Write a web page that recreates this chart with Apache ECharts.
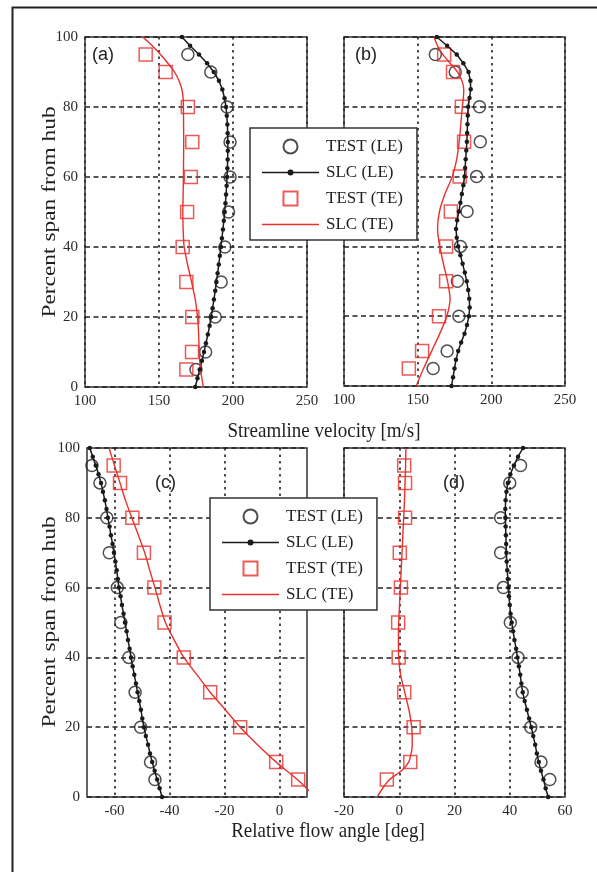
<!DOCTYPE html>
<html><head><meta charset="utf-8">
<script src="https://cdn.jsdelivr.net/npm/echarts@6/dist/echarts.min.js"></script>
<style>html,body{margin:0;padding:0;background:#fff}#c{width:597px;height:872px}</style>
</head><body><div id="c"></div><script>
// ---- data ----
const spanTest = [95, 90, 80, 70, 60, 50, 40, 30, 20, 10, 5];
const spanSlcLE = [100,97.5,95,92.5,90,87.5,85,82.5,80,77.5,75,72.5,70,67.5,65,62.5,60,57.5,55,52.5,50,47.5,45,42.5,40,37.5,35,32.5,30,27.5,25,22.5,20,17.5,15,12.5,10,7.5,5,2.5,0];

// (a) streamline velocity
const aTestLE = [169.5, 185, 196, 198, 198, 197, 194.5, 192, 188, 181.5, 175];
const aTestTE = [141, 154.5, 169.5, 172.5, 171.5, 169, 166, 168.5, 172.5, 172.3, 168.5];
const aSlcLE = [165.5,171,177,182.5,187,190.5,192.8,194.3,195.3,195.8,196.2,196.4,196.5,196.5,196.4,196.2,196,195.7,195.3,194.9,194.4,193.8,193.2,192.5,191.8,191.1,190.4,189.6,188.8,188,187.1,186.2,185.3,184.2,183,181.7,180.4,179,177.5,176,174.5];
const aSpanSlcTE = [100,97.5,95,92.5,90,87.5,85,82.5,80,75,70,65,60,55,50,45,40,35,30,25,20,15,10,5,0];
const aSlcTE = [139,145.5,151,156,160.5,163.5,165.5,166.3,166.5,166.6,166.7,166.6,166.5,166.3,166.1,166.3,167,169.3,172,174.5,176,176.8,177.2,178,180];

// (b) streamline velocity
const bTestLE = [162, 175.5, 192, 192.5, 190, 183.5, 179, 177, 178, 170, 160.5];
const bTestTE = [168, 174, 180, 181.5, 178.5, 172.5, 169.3, 169.3, 164.5, 153, 144];
const bSlcLE = [163,170,176.5,181,184.5,185.8,186,185.2,184.3,184,183.8,183.6,183.4,183,182.6,182.2,181.8,181,180,179,178,176.8,176,176.5,177.5,179,180.5,182,183.3,184.3,185,185.3,184.8,183.5,181.8,179.5,177.5,176,175,174,173];
const bSpanSlcTE = [100,97.5,95,92.5,90,87.5,85,82.5,80,75,70,65,60,55,50,45,40,35,30,25,20,15,10,5,0];
const bSlcTE = [161,163.5,167,172,177,180,181.3,181,180.3,179.3,178.2,176.5,173.5,168.5,164.8,163.5,165,167.5,170.3,172,169.8,165,159.5,154,149];

// (c) relative flow angle
const cTestLE = [-68.2, -65.3, -62.8, -61.9, -59, -57.7, -54.8, -52.5, -50.5, -46.9, -45.3];
const cTestTE = [-60.3, -58, -53.5, -49.3, -45.5, -41.8, -34.8, -25.2, -14.3, -1.2, 6.8];
const cSlcLE = [-69,-67.9,-66.8,-65.8,-64.9,-64.2,-63.5,-62.9,-62.4,-61.8,-61.3,-60.7,-60.2,-59.7,-59.2,-58.8,-58.4,-57.8,-57.3,-56.7,-56.2,-55.6,-55.1,-54.5,-54,-53.4,-52.8,-52.2,-51.6,-51,-50.4,-49.9,-49.3,-48.6,-47.8,-47.1,-46.3,-45.4,-44.5,-43.6,-42.7];
const cSpanSlcTE = [100,95,90,85,80,75,70,65,60,55,50,45,40,35,30,25,20,15,10,5,0];
const cSlcTE = [-62,-60,-58,-56,-53.7,-51.3,-49,-47.2,-45.3,-43.5,-41.5,-38.3,-34.8,-30,-25.2,-19.7,-14.3,-8,-1.2,6.5,13];

// (d) relative flow angle
const dTestLE = [43.9, 40, 36.7, 36.7, 37.7, 40.2, 43, 44.5, 47.6, 51.3, 54.5];
const dTestTE = [1.8, 2.1, 2.1, 0.2, 0.6, -0.4, -0.2, 1.8, 5.2, 4, -4.5];
const dSlcLE = [44.8,43,41.5,40.2,39.3,38.8,38.5,38.4,38.4,38.5,38.6,38.7,38.8,38.9,39.1,39.3,39.5,39.7,40,40.3,40.7,41.2,41.7,42.3,42.8,43.3,43.8,44.2,44.7,45.4,46.2,47,47.8,48.5,49.2,49.8,50.5,51.3,52.2,53,53.9];
const dSpanSlcTE = [100,95,90,85,80,75,70,65,60,55,50,45,40,35,30,25,20,15,12.5,10,7.5,5,2.5,0];
const dSlcTE = [2.4,2.3,2.1,1.9,1.6,1.3,1,0.7,0.4,0.1,-0.2,-0.3,-0.2,0.5,2,3.5,4.5,4.7,4.3,3.4,0.8,-3.5,-6,-8];

const cTicks = [-60, -40, -20, 0];
const legendNames = ['TEST (LE)', 'SLC (LE)', 'TEST (TE)', 'SLC (TE)'];
const panelLabels = ['(a)', '(b)', '(c)', '(d)'];
const xTitles = ['Streamline velocity [m/s]', 'Relative flow angle [deg]'];
const yTitle = 'Percent span from hub';

// ---- build ----
const RED = '#e8302c', BLK = '#1a1a1a';
const SERIF = '"Liberation Serif", "Times New Roman", serif';
const pair = (xs, ys) => xs.map((v, i) => [v, ys[i]]);

const grids = [
  {left: 85, top: 37, width: 222, height: 350},
  {left: 344, top: 37, width: 221, height: 349},
  {left: 87, top: 448, width: 220, height: 349},
  {left: 344, top: 448, width: 221, height: 349}
].map(g => Object.assign(g, {show: true, borderColor: '#333', borderWidth: 1.5, backgroundColor: 'transparent', containLabel: false}));

const vDash = {show: true, lineStyle: {color: '#222', width: 1.6, type: [2.5, 4]}};
const hDash = {show: true, lineStyle: {color: '#222', width: 1.6, type: [5, 3.5]}};
const lbl = {color: '#2a2a2a', fontFamily: SERIF, fontSize: 15, margin: 7};

function xAx(i, min, max, interval, custom) {
  const ax = {type: 'value', gridIndex: i, min, max, axisLine: {show: false}, axisTick: {show: false},
    splitLine: vDash, axisLabel: Object.assign({}, lbl)};
  if (custom) {
    ax.axisLabel.customValues = custom;
    ax.axisTick.customValues = custom;
  } else ax.interval = interval;
  return ax;
}
function yAx(i, showLbl) {
  return {type: 'value', gridIndex: i, min: 0, max: 100, interval: 20, axisLine: {show: false}, axisTick: {show: false},
    splitLine: hDash, axisLabel: Object.assign({show: showLbl}, lbl)};
}

const xAxis = [xAx(0, 100, 250, 50), xAx(1, 100, 250, 50), xAx(2, -70, 10, null, cTicks), xAx(3, -20, 60, 20)];
const yAxis = [yAx(0, true), yAx(1, false), yAx(2, true), yAx(3, false)];

const panels = [
  {le: aTestLE, te: aTestTE, sle: aSlcLE, stes: aSpanSlcTE, ste: aSlcTE},
  {le: bTestLE, te: bTestTE, sle: bSlcLE, stes: bSpanSlcTE, ste: bSlcTE},
  {le: cTestLE, te: cTestTE, sle: cSlcLE, stes: cSpanSlcTE, ste: cSlcTE},
  {le: dTestLE, te: dTestTE, sle: dSlcLE, stes: dSpanSlcTE, ste: dSlcTE}
];
const series = [];
panels.forEach((p, i) => {
  series.push({name: legendNames[1], type: 'line', xAxisIndex: i, yAxisIndex: i, data: pair(p.sle, spanSlcLE),
    symbol: 'circle', symbolSize: 4.5, showSymbol: true, clip: true,
    itemStyle: {color: BLK}, lineStyle: {color: BLK, width: 1.5}});
  series.push({name: legendNames[3], type: 'line', xAxisIndex: i, yAxisIndex: i, data: pair(p.ste, p.stes),
    symbol: 'none', clip: true, smooth: 0.2,
    itemStyle: {color: RED}, lineStyle: {color: RED, width: 1.4}});
  series.push({name: legendNames[0], type: 'scatter', xAxisIndex: i, yAxisIndex: i, data: pair(p.le, spanTest),
    symbol: 'circle', symbolSize: 12,
    itemStyle: {color: 'rgba(0,0,0,0)', borderColor: '#222', borderWidth: 1.5}});
  series.push({name: legendNames[2], type: 'scatter', xAxisIndex: i, yAxisIndex: i, data: pair(p.te, spanTest),
    symbol: 'rect', symbolSize: 13,
    itemStyle: {color: 'rgba(0,0,0,0)', borderColor: RED, borderWidth: 1.5}});
});

const legendIcons = [
  'circle',
  'path://M0,4.3h57v1.4h-57zM25.5,5a3,3 0 1,1 6,0a3,3 0 1,1 -6,0z',
  'path://M0,0h10v10h-10z',
  'path://M0,0h57v1.4h-57z'
];
function legendAt(left, top) {
  return {show: true, orient: 'vertical', left, top,
    data: legendNames.map((n, k) => ({name: n, icon: legendIcons[k]})),
    itemWidth: 57, itemHeight: 14, itemGap: 9, symbolKeepAspect: true,
    padding: [10, 14, 7, 12], backgroundColor: '#fff', borderColor: '#333', borderWidth: 1.5, selectedMode: false,
    textStyle: {fontFamily: SERIF, fontSize: 17, color: '#222', padding: [0, 0, 0, 2]}, z: 10};
}

const labelPos = [[92, 55], [355, 55], [155, 483], [443, 483]];
const graphic = [
  {type: 'rect', left: 10, top: 5, shape: {x: 0, y: 0, width: 600, height: 880}, style: {fill: 'none', stroke: '#222', lineWidth: 2}, silent: true, z: 0}
];
panelLabels.forEach((t, i) => graphic.push({type: 'text', x: labelPos[i][0], y: labelPos[i][1], z: 20,
  style: {text: t, font: '18px "Liberation Sans", Arial, sans-serif', fill: '#222', verticalAlign: 'middle'}}));
graphic.push({type: 'text', x: 324, y: 431, z: 20, style: {text: xTitles[0], font: '19px ' + SERIF, fill: '#1e1e1e', align: 'center', verticalAlign: 'middle'}, scaleY: 1.12});
graphic.push({type: 'text', x: 328, y: 831, z: 20, style: {text: xTitles[1], font: '19px ' + SERIF, fill: '#1e1e1e', align: 'center', verticalAlign: 'middle'}, scaleY: 1.12});
graphic.push({type: 'text', x: 50, y: 212, rotation: Math.PI / 2, scaleX: 1.3, z: 20, style: {text: yTitle, font: '18px ' + SERIF, fill: '#1e1e1e', align: 'center', verticalAlign: 'middle'}});
graphic.push({type: 'text', x: 50, y: 622, rotation: Math.PI / 2, scaleX: 1.3, z: 20, style: {text: yTitle, font: '18px ' + SERIF, fill: '#1e1e1e', align: 'center', verticalAlign: 'middle'}});

const chart = echarts.init(document.getElementById('c'), null, {renderer: 'canvas'});
chart.setOption({
  animation: false,
  backgroundColor: '#fff',
  grid: grids, xAxis, yAxis, series,
  legend: [legendAt(250, 128), legendAt(210, 498)],
  graphic
});
</script></body></html>
